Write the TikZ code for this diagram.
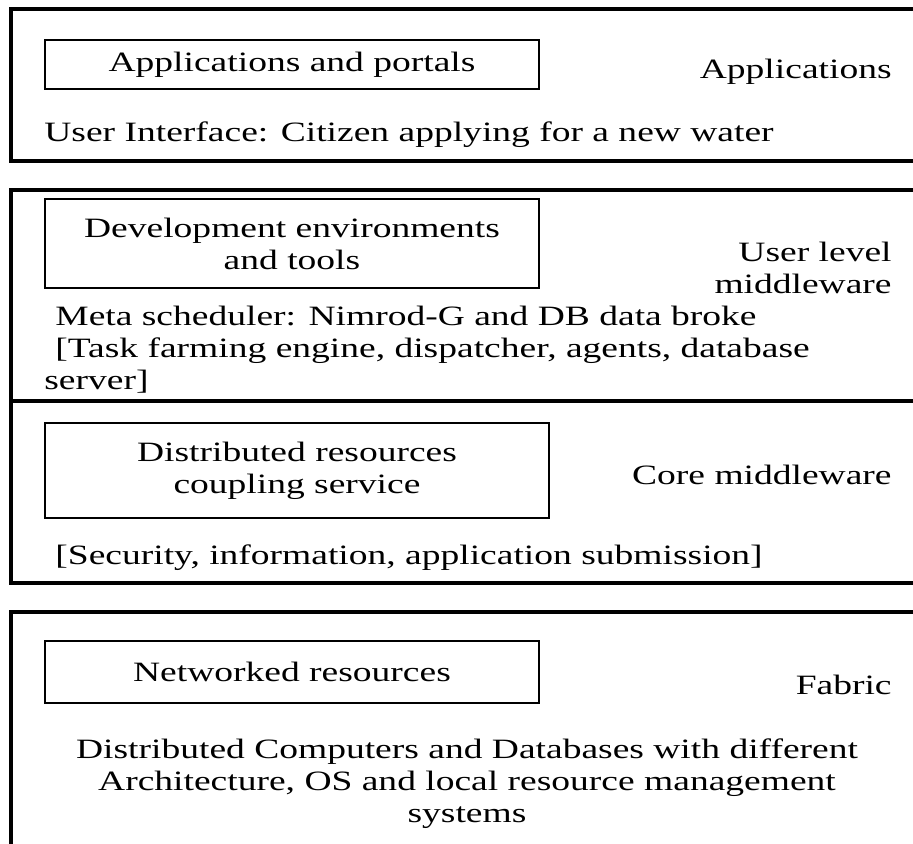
\documentclass[tikz,border=0pt]{standalone}
\usepackage{fontspec}
\setmainfont{Liberation Serif}[FakeStretch=1.34]
\usepackage{tikz}

\begin{document}
\begin{tikzpicture}[x=0.5pt,y=-0.5pt,
  layer/.style={draw,line width=1.75pt},
  inbox/.style={draw,line width=1.4pt,align=center,inner sep=0pt,minimum width=247pt},
  txt/.style={font=\fontsize{14}{16}\selectfont,inner sep=0pt}]
\useasboundingbox (0,0) rectangle (913,843);
\clip (0,0) rectangle (913,843);
\draw[layer] (11,9) rectangle (925,161);
\draw[layer] (11,190) rectangle (925,583);
\draw[layer] (11,401)--(925,401);
\draw[layer] (11,612) rectangle (925,870);
\node [inbox,txt,minimum height=24.5pt] (apps) at(292,64.5){Applications and portals};
\node [txt,anchor=east] (appslab) at(892,72){Applications};
\node [txt,anchor=west] (ui) at(44,135){User Interface: Citizen applying for a new water};
\node [inbox,txt,minimum height=44.5pt] (devtools) at(292,243.5){Development environments\\and tools};
\node [txt,anchor=east,align=right] (userlab) at(892,268){User level\\middleware};
\node [txt,anchor=west,align=left] (meta) at(44,350){\hspace{5.5pt}Meta scheduler: Nimrod-G and DB data broke\\\hspace{5.5pt}[Task farming engine, dispatcher, agents, database\\server]};
\node [inbox,txt,minimum width=252pt,minimum height=47.5pt] (coupling) at(297,470.5){Distributed resources\\coupling service};
\node [txt,anchor=east] (corelab) at(892,475){Core middleware};
\node [txt,anchor=west] (security) at(55,558){[Security, information, application submission]};
\node [inbox,txt,minimum height=31pt] (netres) at(292,672){Networked resources};
\node [txt,anchor=east] (fabriclab) at(892,685){Fabric};
\node [txt,align=center] (computers) at(467,784){Distributed Computers and Databases with different\\Architecture, OS and local resource management\\systems};
\end{tikzpicture}
\end{document}
